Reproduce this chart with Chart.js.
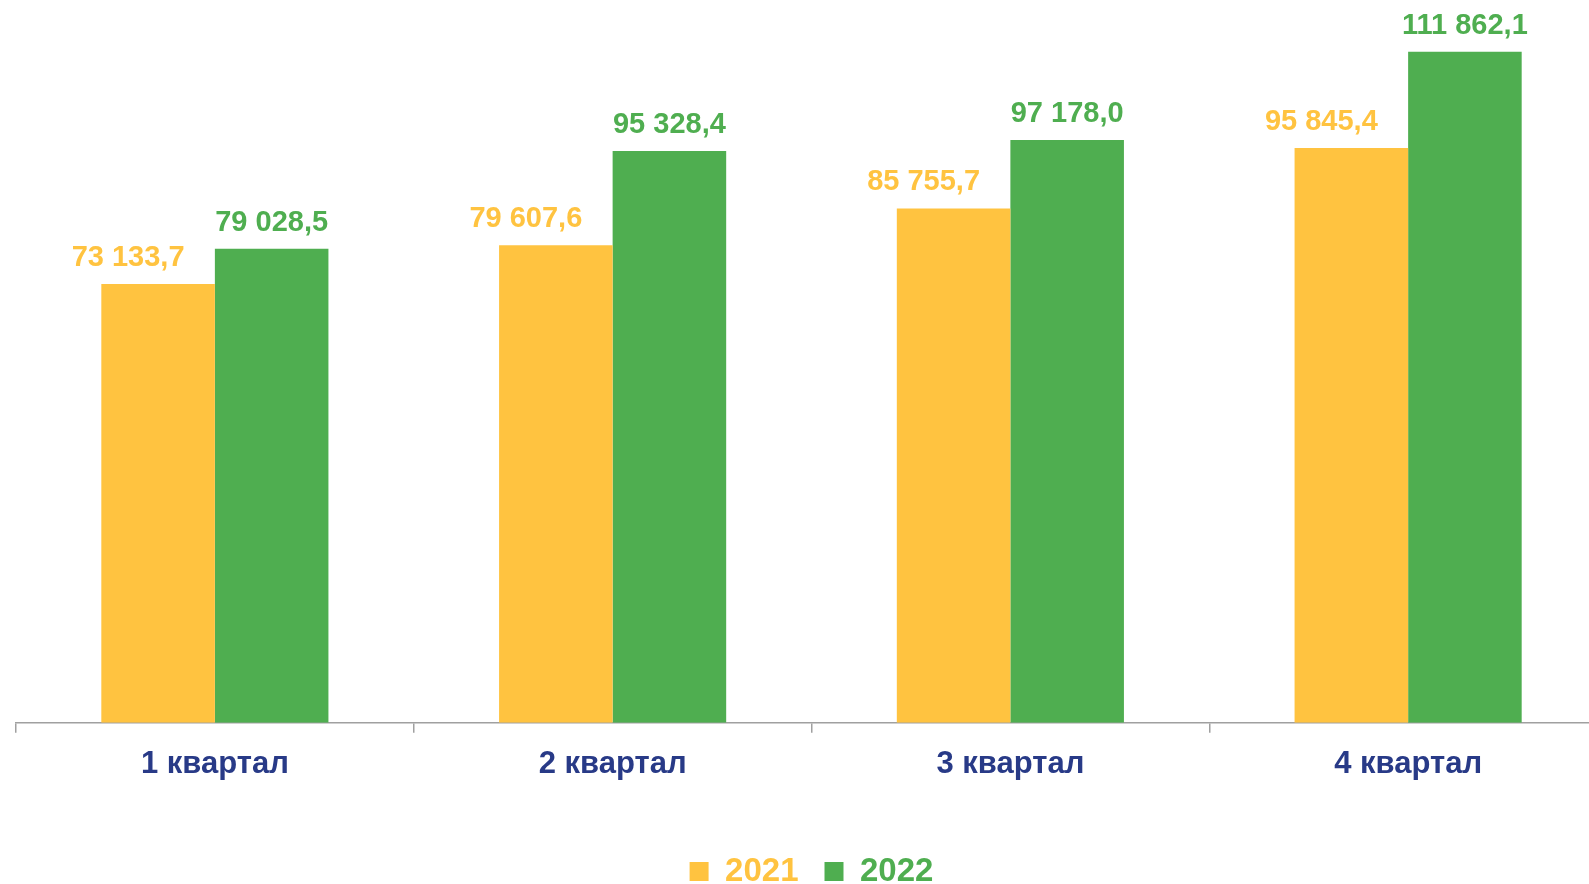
<!DOCTYPE html>
<html>
<head>
<meta charset="utf-8">
<script src="https://cdn.jsdelivr.net/npm/chart.js@4"></script>
<style>
  html, body { margin: 0; padding: 0; background: #fff; overflow: hidden; }
  #wrap { width: 1589px; height: 884px; overflow: hidden; position: relative; }
  #box { width: 1620px; height: 898px; position: absolute; left: 0; top: 0; }
</style>
</head>
<body>
<div id="wrap"><div id="box"><canvas id="c"></canvas></div></div>
<script>
const categories = ['1 квартал', '2 квартал', '3 квартал', '4 квартал'];
const seriesNames = ['2021', '2022'];
const values2021 = [73133.7, 79607.6, 85755.7, 95845.4];
const values2022 = [79028.5, 95328.4, 97178.0, 111862.1];
const yMax = 120000;

const YELLOW = '#FFC340';
const GREEN = '#4FAE50';
const NAVY = '#283A87';
const FONT = "'Liberation Sans', Arial, sans-serif";

function fmt(v) {
  const parts = v.toFixed(1).split('.');
  const intPart = parts[0].replace(/\B(?=(\d{3})+(?!\d))/g, ' ');
  return intPart + ',' + parts[1];
}

const labelShift = [-30, 0];

const valueLabels = {
  id: 'valueLabels',
  afterDatasetsDraw(chart) {
    const ctx = chart.ctx;
    ctx.save();
    ctx.font = 'bold 29px ' + FONT;
    ctx.textAlign = 'center';
    ctx.textBaseline = 'alphabetic';
    chart.data.datasets.forEach((ds, i) => {
      const meta = chart.getDatasetMeta(i);
      meta.data.forEach((bar, j) => {
        ctx.fillStyle = ds.backgroundColor;
        ctx.fillText(fmt(ds.data[j]), bar.x + labelShift[i], bar.y - 18);
      });
    });
    ctx.restore();
  }
};

new Chart(document.getElementById('c'), {
  type: 'bar',
  data: {
    labels: categories,
    datasets: [
      { label: seriesNames[0], data: values2021, backgroundColor: YELLOW },
      { label: seriesNames[1], data: values2022, backgroundColor: GREEN }
    ]
  },
  options: {
    responsive: true,
    maintainAspectRatio: false,
    animation: false,
    layout: { padding: { left: 16, right: 13, top: 3, bottom: 0 } },
    datasets: { bar: { categoryPercentage: 0.571, barPercentage: 1.0 } },
    scales: {
      x: {
        afterFit(scale) { scale.height += 33; },
        grid: { display: true, drawOnChartArea: false, offset: true, color: '#A0A0A0', tickLength: 10, lineWidth: 1.5 },
        border: { display: true, color: '#A0A0A0', width: 1.5 },
        ticks: { color: NAVY, font: { family: FONT, size: 31, weight: 'bold' }, padding: 13 }
      },
      y: { display: false, min: 0, max: yMax }
    },
    plugins: {
      tooltip: { enabled: false },
      legend: {
        position: 'bottom',
        labels: {
          boxWidth: 19,
          boxHeight: 19,
          padding: 26,
          font: { family: FONT, size: 33, weight: 'bold' },
          generateLabels(chart) {
            return chart.data.datasets.map((ds, i) => ({
              text: ds.label,
              fillStyle: ds.backgroundColor,
              strokeStyle: ds.backgroundColor,
              lineWidth: 0,
              fontColor: ds.backgroundColor,
              hidden: false,
              datasetIndex: i
            }));
          }
        }
      }
    }
  },
  plugins: [valueLabels]
});
</script>
</body>
</html>
